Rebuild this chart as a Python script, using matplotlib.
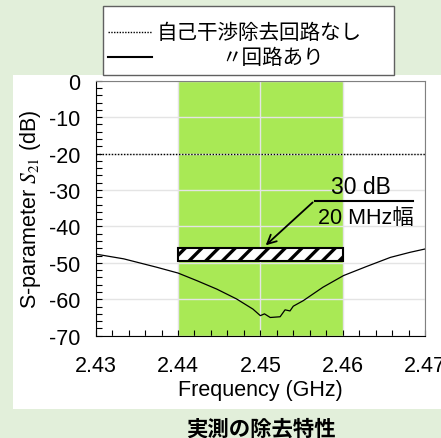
import matplotlib
matplotlib.use("Agg")
import matplotlib.pyplot as plt
from matplotlib.patches import Rectangle
from matplotlib.lines import Line2D

plt.rcParams['font.family'] = ['Liberation Sans', 'Noto Sans CJK JP', 'DejaVu Sans']
plt.rcParams['mathtext.fontset'] = 'stix'
plt.rcParams['axes.unicode_minus'] = False
plt.rcParams['hatch.linewidth'] = 2.4

# ---- data ----
freq = [2.4300, 2.4334, 2.4374, 2.4400, 2.4423, 2.4447, 2.4471, 2.4491, 2.4500,
        2.4505, 2.4512, 2.4524, 2.4530, 2.4536, 2.4540, 2.4552, 2.4576, 2.4601,
        2.4629, 2.4658, 2.4682, 2.4700]
s21_with = [-47.6, -48.9, -51.2, -52.8, -54.9, -57.2, -59.9, -62.7, -64.5,
            -64.0, -65.0, -64.8, -62.9, -63.2, -61.9, -60.4, -56.7, -53.5,
            -51.0, -48.5, -47.1, -46.2]
s21_without = -20.0
band = [2.44, 2.46]
bar_range = [-49.6, -46.0]
arrow_tail = (2.4566, -32.9)
arrow_head = (2.4504, -45.7)
line_end_x = 2.4685
xticks = [2.43, 2.44, 2.45, 2.46, 2.47]
yticks = [0, -10, -20, -30, -40, -50, -60, -70]
legend_labels = ['自己干渉除去回路なし', '〃回路あり']
title = '実測の除去特性'

W, H = 441, 439
fig = plt.figure(figsize=(W / 100, H / 100), dpi=100)
fig.patch.set_facecolor('#e2efda')

def fx(px):
    return px / W

def fy(py):
    return 1 - py / H

# white panel
fig.patches.append(Rectangle((fx(13), fy(410)), 1 - fx(13), fy(76) - fy(410),
                             transform=fig.transFigure, facecolor='white',
                             edgecolor='none', zorder=-5))

ax = fig.add_axes([fx(95.7), fy(336.7), fx(425) - fx(95.7), fy(81.7) - fy(336.7)])
ax.set_zorder(1)
ax.set_facecolor('white')
ax.set_xlim(2.43, 2.47)
ax.set_ylim(-70, 0)

ax.axvspan(band[0], band[1], color='#a9e955', zorder=0.5, lw=0)
ax.set_xticks(xticks)
ax.set_xticklabels([f'{t:.2f}' for t in xticks])
ax.set_yticks(yticks)
ax.set_xticks([2.43 + 0.002 * i for i in range(21)], minor=True)
ax.set_yticks([-2 * i for i in range(36)], minor=True)
ax.grid(True, which='major', color='#e4e4e4', lw=1, zorder=0.6)
ax.set_axisbelow(True)

ax.tick_params(axis='both', which='both', direction='in', length=4, width=0.8,
               top=False, right=False, labelsize=15.5)
ax.tick_params(axis='y', pad=11)
ax.tick_params(axis='x', pad=14)
for s in ['top', 'right']:
    ax.spines[s].set_color('#808080')
for s in ['left', 'bottom']:
    ax.spines[s].set_color('black')

ax.axhline(s21_without, color='black', ls=(0, (1, 1.2)), lw=1, zorder=3)
ax.plot(freq, s21_with, color='black', lw=0.9, zorder=3)

ax.add_patch(Rectangle((band[0], bar_range[0]), band[1] - band[0],
                       bar_range[1] - bar_range[0], facecolor='white',
                       edgecolor='black', hatch='//', lw=1.5, zorder=4))

ax.annotate('', xy=arrow_head, xytext=arrow_tail,
            arrowprops=dict(arrowstyle='->', color='black', lw=1.3,
                            mutation_scale=16), zorder=5)
ax.plot([arrow_tail[0], line_end_x], [arrow_tail[1], arrow_tail[1]],
        color='black', lw=1.5, zorder=5)
ax.text(2.4622, -29.0, '30 dB', fontsize=16.5, ha='center', va='center', zorder=6)
ax.text(2.4628, -37.5, '20 MHz幅', fontsize=15.5, ha='center', va='center', zorder=6)

ax.set_xlabel('Frequency (GHz)', fontsize=15.5, labelpad=2)
ax.set_ylabel('S-parameter $\\mathit{S}_{\\mathrm{21}}$ (dB)', fontsize=15.5, labelpad=4)

# legend box
fig.patches.append(Rectangle((fx(102.7), fy(75.7)), fx(394.3) - fx(102.7),
                             fy(7.3) - fy(75.7), transform=fig.transFigure,
                             facecolor='white', edgecolor='#606060', lw=1, zorder=5))
fig.lines.append(Line2D([fx(108), fx(151.7)], [fy(33), fy(33)], transform=fig.transFigure,
                        color='black', ls=(0, (1, 1)), lw=1, zorder=6))
fig.lines.append(Line2D([fx(108), fx(151.7)], [fy(58.3), fy(58.3)], transform=fig.transFigure,
                        color='black', lw=1.5, zorder=6))
fig.text(fx(156.7), fy(33), legend_labels[0], fontsize=14.8, ha='left', va='center', zorder=7)
fig.text(fx(221.7), fy(58.3), legend_labels[1], fontsize=14.8, ha='left', va='center', zorder=7)

fig.text(fx(261), fy(429), title, fontsize=15.4, fontweight='bold', ha='center', va='center')

fig.savefig('out.png', dpi=100, facecolor=fig.get_facecolor())
